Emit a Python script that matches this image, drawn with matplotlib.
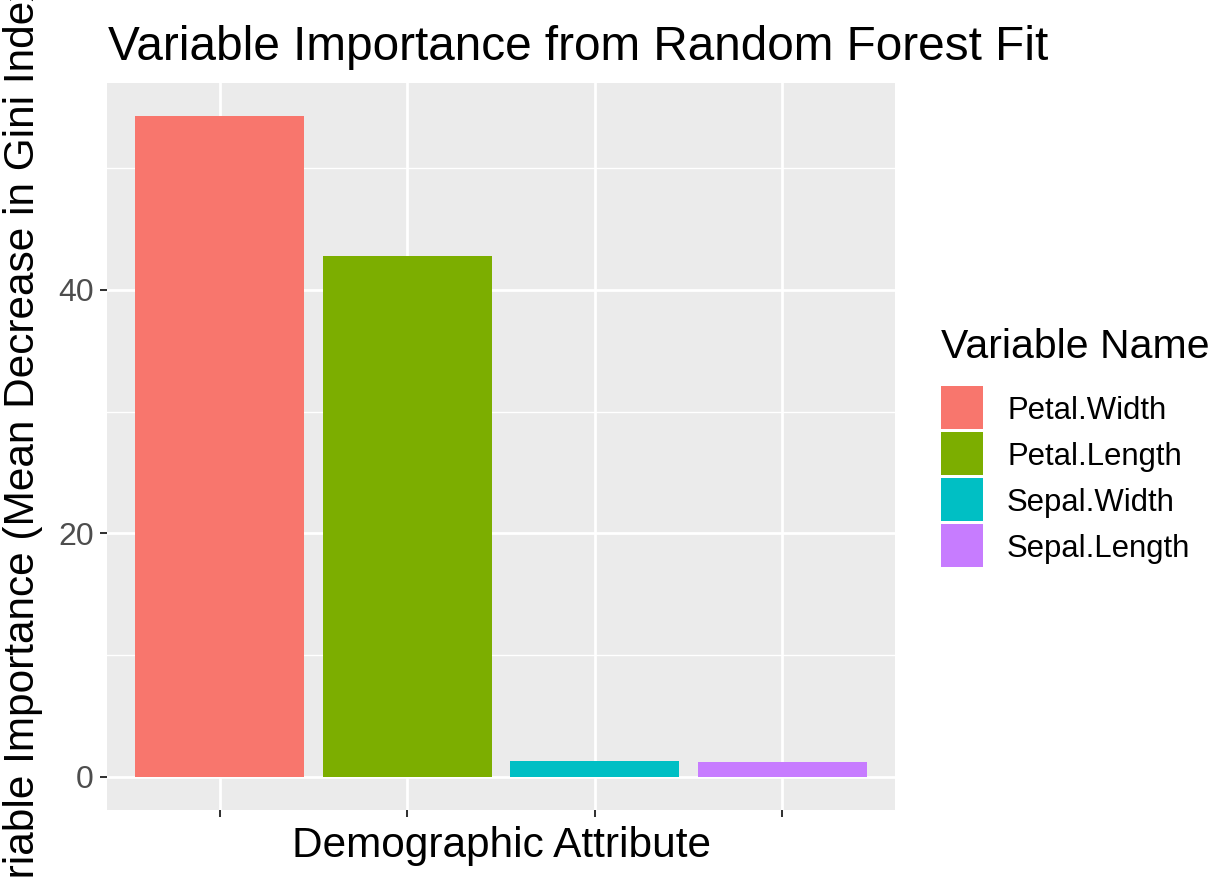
import matplotlib.pyplot as plt
import numpy as np
from matplotlib.patches import Rectangle

plt.rcParams['font.family'] = ['Liberation Sans', 'DejaVu Sans']

# importance values
variables = ['Petal.Width', 'Petal.Length', 'Sepal.Width', 'Sepal.Length']
importance = [54.27, 42.8, 1.27, 1.19]
colors = ['#F8766D', '#7CAE00', '#00BFC4', '#C77CFF']

W, H = 1223, 877
fig = plt.figure(figsize=(W / 100, H / 100), dpi=100)
ax = fig.add_axes([107 / W, (H - 810) / H, 788 / W, 727 / H])
ax.set_facecolor('#EBEBEB')

x = np.arange(1, len(variables) + 1)
ax.bar(x, importance, width=0.9, color=colors, zorder=3)

ymax = max(importance)
ax.set_xlim(0.4, len(variables) + 0.6)
ax.set_ylim(-0.05 * ymax, 1.05 * ymax)

ax.set_xticks(x)
ax.set_xticklabels([''] * len(variables))
ax.set_yticks([0, 20, 40])
ax.set_yticks([10, 30, 50], minor=True)
ax.grid(which='major', color='white', linewidth=2.0, zorder=1)
ax.grid(which='minor', axis='y', color='white', linewidth=1.0, zorder=1)
ax.tick_params(which='major', length=5, width=1.45, color='#333333',
               labelsize=23, labelcolor='#4D4D4D', pad=4.5)
ax.tick_params(which='minor', length=0)
for s in ax.spines.values():
    s.set_visible(False)

ax.set_xlabel('Demographic Attribute', fontsize=30.5, labelpad=2)
fig.text(23 / W, 1 - 446 / H, 'Variable Importance (Mean Decrease in Gini Index)',
         rotation=90, fontsize=30.5, ha='center', va='center')
fig.text(108 / W, 1 - 47 / H, 'Variable Importance from Random Forest Fit',
         fontsize=34.4, ha='left', va='center')

# legend drawn by hand in pixel coordinates
lax = fig.add_axes([0, 0, 1, 1])
lax.set_xlim(0, W)
lax.set_ylim(H, 0)
lax.axis('off')
key_x, key_top, key_size, key_pitch = 940.7, 386, 42.7, 46
lax.text(key_x, 358, 'Variable Name', fontsize=29.5, ha='left', va='baseline')
for i, (name, c) in enumerate(zip(variables, colors)):
    top = key_top + i * key_pitch
    lax.add_patch(Rectangle((key_x, top), key_size, key_size,
                            facecolor=c, edgecolor='none'))
    lax.text(1007, top + 33, name, fontsize=22.4, ha='left', va='baseline')

fig.savefig('out.png', dpi=100)
